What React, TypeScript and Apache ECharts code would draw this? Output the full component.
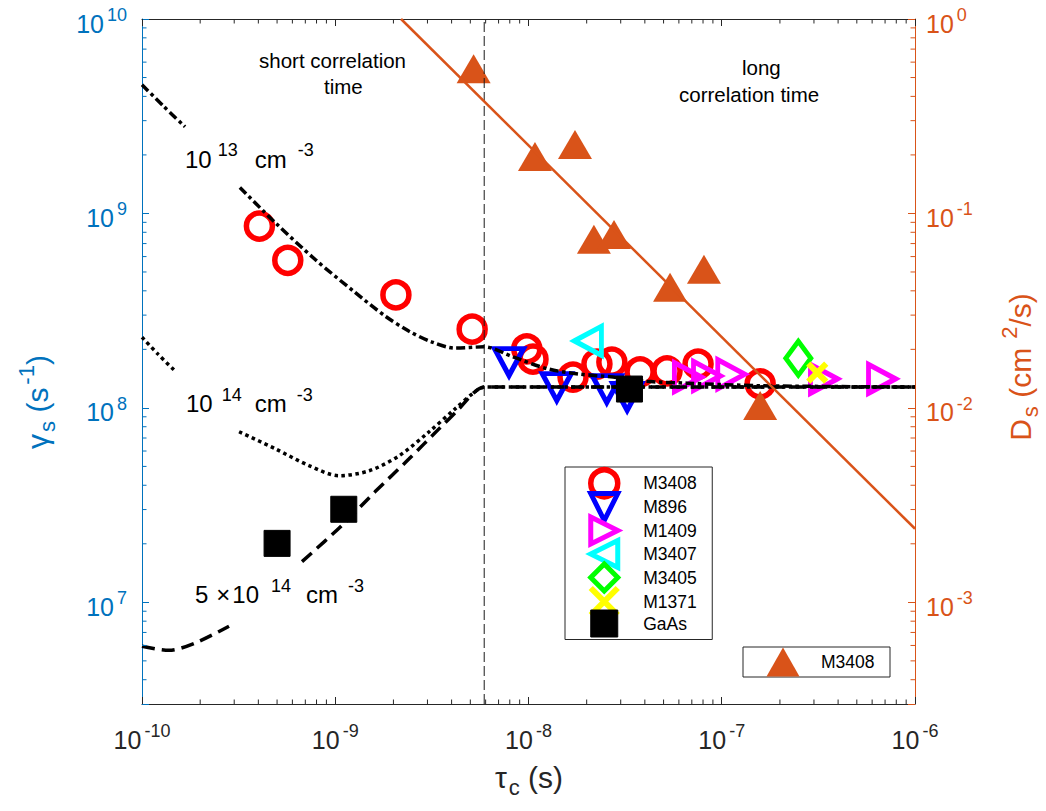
import React, { useEffect, useRef } from "react";
import * as echarts from "echarts";

const FONT = '"Liberation Sans", Arial, Helvetica, sans-serif';
const AXIS_COLOR = "#262626";
const LEFT_COLOR = "#0072BD";
const RIGHT_COLOR = "#D95319";

// ---------------- axis ranges ----------------
const TAU_MIN = 1e-10;
const TAU_MAX = 1e-6;
const GAMMA_MIN = 3e6;
const GAMMA_MAX = 1e10;
const DS_MIN = 3e-4;
const DS_MAX = 1;

// minor tick structure (log decades x 2..9)
const MINOR_MULT = [2, 3, 4, 5, 6, 7, 8, 9];
const TAU_DECADES = [1e-10, 1e-9, 1e-8, 1e-7];
const GAMMA_DECADES = [1e6, 1e7, 1e8, 1e9];
const DS_DECADES = [1e-4, 1e-3, 1e-2, 1e-1];

// ---------------- measured data (left axis: gamma_s) ----------------
const tauM3408 = [4.05e-10, 5.68e-10, 2.06e-9, 5.11e-9, 9.8e-9, 1.055e-8, 1.7e-8, 2.26e-8, 2.7e-8, 3.78e-8, 5.21e-8, 7.54e-8, 1.58e-7];
const gammaM3408 = [8.61e8, 5.74e8, 3.81e8, 2.54e8, 2.01e8, 1.78e8, 1.44e8, 1.68e8, 1.72e8, 1.53e8, 1.55e8, 1.68e8, 1.33e8];

const tauM896 = [7.93e-9, 1.4e-8, 2.54e-8, 3.24e-8];
const gammaM896 = [1.72e8, 1.28e8, 1.25e8, 1.14e8];

const tauM1409 = [6.68e-8, 8.39e-8, 1.12e-7, 3.38e-7, 6.75e-7];
const gammaM1409 = [1.44e8, 1.46e8, 1.49e8, 1.41e8, 1.41e8];

const tauM3407 = [2.03e-8];
const gammaM3407 = [2.21e8];

const tauM3405 = [2.49e-7];
const gammaM3405 = [1.8e8];

const tauM1371 = [3.12e-7];
const gammaM1371 = [1.52e8];

const tauGaAs = [5.0e-10, 1.107e-9, 3.33e-8];
const gammaGaAs = [2.01e7, 3.01e7, 1.25e8];

// ---------------- right axis: D_s ----------------
const tauDs = [5.2e-9, 1.08e-8, 1.74e-8, 2.18e-8, 2.77e-8, 5.4e-8, 8.09e-8, 1.58e-7];
const valDs = [0.554, 0.196, 0.226, 0.0736, 0.078, 0.0417, 0.0516, 0.0103];

const tauDsFit = [2.19e-9, 1e-6];
const valDsFit = [1, 2.39e-3];

// ---------------- model curves (null = gap for label) ----------------
const tauC13 = [1e-10, 1.285e-10, 1.67e-10, 2.3e-10, 3.21e-10, 4.88e-10, 7.85e-10, 1.26e-9, 1.81e-9, 2.41e-9, 3.17e-9, 4.17e-9, 5.89e-9, 8.32e-9, 1.25e-8, 1.85e-8, 2.74e-8, 4.1e-8, 6.61e-8, 1.58e-7, 1e-6];
const gammaC13 = [4.59e9, 3.58e9, 2.79e9, null, 1.36e9, 8.99e8, 5.81e8, 3.94e8, 2.97e8, 2.48e8, 2.18e8, 2.03e8, 2.06e8, 1.83e8, 1.59e8, 1.49e8, 1.44e8, 1.37e8, 1.34e8, 1.3e8, 1.28e8];

const tauC14 = [1e-10, 1.21e-10, 1.48e-10, 2.2e-10, 3.18e-10, 4.88e-10, 7.31e-10, 1.045e-9, 1.5e-9, 2.14e-9, 3.06e-9, 4.17e-9, 5.28e-9, 5.96e-9, 1e-8, 1e-6];
const gammaC14 = [2.31e8, 1.89e8, 1.55e8, null, 7.54e7, 6.17e7, 5.05e7, 4.48e7, 4.75e7, 5.67e7, 7.54e7, 9.89e7, 1.21e8, 1.28e8, 1.28e8, 1.28e8];

const tauC5e14 = [1e-10, 1.38e-10, 1.88e-10, 2.82e-10, 4.5e-10, 6.73e-10, 1.08e-9, 1.61e-9, 2.41e-9, 3.44e-9, 4.37e-9, 5.28e-9, 5.96e-9, 1e-8, 1e-6];
const gammaC5e14 = [5.94e6, 5.67e6, 6.17e6, 7.54e6, null, 1.62e7, 2.48e7, 3.71e7, 5.47e7, 7.8e7, 9.89e7, 1.21e8, 1.28e8, 1.28e8, 1.28e8];

// boundary between short / long correlation time
const tauBoundary = [5.9e-9, 5.9e-9];
const gammaBoundary = [GAMMA_MIN, GAMMA_MAX];

const LEGEND_MAIN = ["M3408", "M896", "M1409", "M3407", "M3405", "M1371", "GaAs"];
const LEGEND_DS = ["M3408 "];

// marker outlines used in the legend (rotated triangles)
const ICON_DOWN = "path://M0,0L20,0L10,17.3Z";
const ICON_RIGHT = "path://M0,0L17.3,10L0,20Z";
const ICON_LEFT = "path://M17.3,0L0,10L17.3,20Z";

const pairs = (xs: number[], ys: (number | null)[]) => xs.map((x, i) => [x, ys[i] === null ? "-" : ys[i]]);

const minorTicks = (decades: number[], lo: number, hi: number) => {
  const out: number[] = [];
  decades.forEach((d) => MINOR_MULT.forEach((m) => {
    const v = d * m;
    if (v > lo * 1.001 && v < hi * 0.999) out.push(v);
  }));
  return out;
};

const powLabel = (v: number) => {
  const l = Math.log10(v);
  const e = Math.round(l);
  if (Math.abs(l - e) > 1e-6) return "";
  return `{b|10}{s|${e}}`;
};

const richAxis = (color: string) => ({
  b: { fontFamily: FONT, fontSize: 25, lineHeight: 34, verticalAlign: "bottom", color },
  s: { fontFamily: FONT, fontSize: 18, verticalAlign: "top", padding: [4, 0, 0, 3], color },
});

const curveRich = (() => {
  const r: any = {
    b: { fontFamily: FONT, fontSize: 24, lineHeight: 34, verticalAlign: "bottom", fill: "#000" },
  };
  [2, 8, 13, 15, 17].forEach((p) => {
    r["b" + p] = { fontFamily: FONT, fontSize: 24, lineHeight: 34, verticalAlign: "bottom", fill: "#000", padding: [0, 0, 0, p] };
  });
  [6, 9, 10, 11, 12].forEach((p) => {
    r["s" + p] = { fontFamily: FONT, fontSize: 18, verticalAlign: "top", fill: "#000", padding: [4, 0, 0, p] };
  });
  return r;
})();

const titleRich = (color: string) => ({
  g: { fontFamily: FONT, fontSize: 30, lineHeight: 52, verticalAlign: "middle", fill: color },
  sup: { fontFamily: FONT, fontSize: 22, verticalAlign: "top", padding: [4.5, 0, 0, 3], fill: color },
  sub: { fontFamily: FONT, fontSize: 22, verticalAlign: "bottom", padding: [0, 0, 4.5, 2], fill: color },
});

const textEl = (text: string, x: number, y: number, extra: any = {}) => ({
  type: "text",
  x,
  y,
  z: 50,
  silent: true,
  style: {
    text,
    fontFamily: FONT,
    fontSize: 20.5,
    fill: "#000",
    align: "left",
    textAlign: "left",
    verticalAlign: "middle",
    textVerticalAlign: "middle",
    ...extra,
  },
});

export default function App() {
  const ref = useRef<HTMLDivElement>(null);

  useEffect(() => {
    if (!ref.current) return;
    const chart = echarts.init(ref.current, null, { renderer: "svg" });

    const xAxisBase: any = {
      type: "log",
      logBase: 10,
      min: TAU_MIN,
      max: TAU_MAX,
      axisLine: { show: true, onZero: false, lineStyle: { color: AXIS_COLOR, width: 1 } },
      axisTick: { show: true, inside: true, length: 7, lineStyle: { color: AXIS_COLOR, width: 1 } },
      splitLine: { show: false },
      minorTick: { show: false },
      minorSplitLine: { show: false },
    };

    const scatter = (name: string, xs: number[], ys: number[], symbol: string, size: any, rotate: number, itemStyle: any, yAxisIndex = 0) => ({
      type: "scatter",
      name,
      xAxisIndex: 0,
      yAxisIndex,
      data: pairs(xs, ys),
      symbol,
      symbolSize: size,
      symbolRotate: rotate,
      itemStyle: { opacity: 1, ...itemStyle },
      z: 2,
      silent: true,
      emphasis: { disabled: true },
    });

    const curve = (xs: number[], ys: (number | null)[], type: any, width = 3.5, color = "#000", yAxisIndex = 0, smooth: any = 0.3) => ({
      type: "line",
      xAxisIndex: 0,
      yAxisIndex,
      data: pairs(xs, ys),
      showSymbol: false,
      symbol: "none",
      smooth,
      connectNulls: false,
      lineStyle: { color, width, type, opacity: 1 },
      z: 3,
      silent: true,
      emphasis: { disabled: true },
    });

    const tickSeries = (values: number[], kind: "x" | "left" | "right") => ({
      type: "custom",
      xAxisIndex: 0,
      yAxisIndex: kind === "right" ? 1 : 0,
      silent: true,
      z: 6,
      data: values.map((v) => (kind === "x" ? [v, 1e8] : [1e-8, v])),
      renderItem: (params: any, api: any) => {
        const cs = params.coordSys;
        const L = 4.5;
        if (kind === "x") {
          const px = api.coord([api.value(0), api.value(1)])[0];
          const bottom = cs.y + cs.height;
          return {
            type: "group",
            children: [
              { type: "line", shape: { x1: px, y1: bottom, x2: px, y2: bottom - L }, style: { stroke: AXIS_COLOR, lineWidth: 1 } },
              { type: "line", shape: { x1: px, y1: cs.y, x2: px, y2: cs.y + L }, style: { stroke: AXIS_COLOR, lineWidth: 1 } },
            ],
          };
        }
        const py = api.coord([api.value(0), api.value(1)])[1];
        if (kind === "left") {
          return { type: "line", shape: { x1: cs.x, y1: py, x2: cs.x + L, y2: py }, style: { stroke: LEFT_COLOR, lineWidth: 1 } };
        }
        const right = cs.x + cs.width;
        return { type: "line", shape: { x1: right, y1: py, x2: right - L, y2: py }, style: { stroke: RIGHT_COLOR, lineWidth: 1 } };
      },
    });

    const hollow = (color: string, w = 5) => ({ color: "rgba(255,255,255,0)", borderColor: color, borderWidth: w });

    const option: any = {
      animation: false,
      backgroundColor: "#ffffff",
      grid: { left: 142, right: 131, top: 19, bottom: 107, containLabel: false, outerBoundsMode: "none" },
      xAxis: [
        {
          ...xAxisBase,
          position: "bottom",
          axisLabel: {
            show: true,
            margin: 14,
            color: AXIS_COLOR,
            fontFamily: FONT,
            formatter: powLabel,
            rich: richAxis(AXIS_COLOR),
            showMinLabel: true,
            showMaxLabel: true,
          },
        },
        { ...xAxisBase, position: "top", axisLabel: { show: false } },
      ],
      yAxis: [
        {
          type: "log",
          logBase: 10,
          min: GAMMA_MIN,
          max: GAMMA_MAX,
          position: "left",
          axisLine: { show: true, onZero: false, lineStyle: { color: LEFT_COLOR, width: 1 } },
          axisTick: { show: true, inside: true, length: 7, lineStyle: { color: LEFT_COLOR, width: 1 } },
          axisLabel: { margin: 15, color: LEFT_COLOR, fontFamily: FONT, formatter: powLabel, rich: richAxis(LEFT_COLOR), showMaxLabel: true },
          splitLine: { show: false },
          minorTick: { show: false },
        },
        {
          type: "log",
          logBase: 10,
          min: DS_MIN,
          max: DS_MAX,
          position: "right",
          axisLine: { show: true, onZero: false, lineStyle: { color: RIGHT_COLOR, width: 1 } },
          axisTick: { show: true, inside: true, length: 7, lineStyle: { color: RIGHT_COLOR, width: 1 } },
          axisLabel: { margin: 11, color: RIGHT_COLOR, fontFamily: FONT, formatter: powLabel, rich: richAxis(RIGHT_COLOR), showMaxLabel: true },
          splitLine: { show: false },
          minorTick: { show: false },
        },
      ],
      legend: [
        {
          data: [
            { name: LEGEND_MAIN[0] },
            { name: LEGEND_MAIN[1], icon: ICON_DOWN },
            { name: LEGEND_MAIN[2], icon: ICON_RIGHT },
            { name: LEGEND_MAIN[3], icon: ICON_LEFT },
            { name: LEGEND_MAIN[4] },
            { name: LEGEND_MAIN[5] },
            { name: LEGEND_MAIN[6] },
          ],
          orient: "vertical",
          left: 565,
          top: 467,
          itemWidth: 27,
          itemHeight: 27,
          itemGap: -8.5,
          symbolKeepAspect: false,
          padding: [0, 15.5, 2, 22.75],
          borderColor: AXIS_COLOR,
          borderWidth: 1,
          backgroundColor: "#ffffff",
          selectedMode: false,
          itemStyle: { borderWidth: "inherit", opacity: 1 },
          textStyle: { fontFamily: FONT, fontSize: 17.5, color: "#000", padding: [0, 0, 0, 20.5] },
          z: 20,
        },
        {
          data: LEGEND_DS,
          orient: "horizontal",
          left: 743,
          top: 647,
          itemWidth: 33,
          itemHeight: 29,
          symbolKeepAspect: false,
          padding: [0.5, 15.5, 0.5, 23.5],
          borderColor: AXIS_COLOR,
          borderWidth: 1,
          backgroundColor: "#ffffff",
          selectedMode: false,
          itemStyle: { borderWidth: 0, opacity: 1 },
          formatter: (n: string) => n.trim(),
          textStyle: { fontFamily: FONT, fontSize: 17.5, color: "#000", padding: [0, 0, 0, 16.5] },
          z: 20,
        },
      ],
      series: [
        scatter("M3408", tauM3408, gammaM3408, "circle", 26, 0, hollow("#FF0000", 5.5)),
        scatter("M896", tauM896, gammaM896, "triangle", [29, 27], 180, hollow("#0000FF")),
        scatter("M1409", tauM1409, gammaM1409, "triangle", [29, 27], -90, hollow("#FF00FF")),
        scatter("M3407", tauM3407, gammaM3407, "triangle", [29, 27], 90, hollow("#00FFFF")),
        scatter("M3405", tauM3405, gammaM3405, "diamond", [25, 34], 0, hollow("#00FF00")),
        scatter("M1371", tauM1371, gammaM1371, "path://M0,0L20,20M20,0L0,20", 18, 0, hollow("#FFFF00", 6)),
        scatter("GaAs", tauGaAs, gammaGaAs, "rect", 26, 0, { color: "#000000", borderColor: "#000000", borderWidth: 1 }),
        scatter("M3408 ", tauDs, valDs, "triangle", [34, 29], 0, { color: RIGHT_COLOR, borderWidth: 0 }, 1),
        curve(tauC13, gammaC13, [9, 3.5, 3.5, 3.5]),
        curve(tauC14, gammaC14, [3.5, 3.5]),
        curve(tauC5e14, gammaC5e14, [13, 7]),
        curve(tauBoundary, gammaBoundary, [10, 4], 1, "#1a1a1a", 0, false),
        curve(tauDsFit, valDsFit, "solid", 2.5, RIGHT_COLOR, 1, false),
        tickSeries(minorTicks(TAU_DECADES, TAU_MIN, TAU_MAX), "x"),
        tickSeries(minorTicks(GAMMA_DECADES, GAMMA_MIN, GAMMA_MAX), "left"),
        tickSeries(minorTicks(DS_DECADES, DS_MIN, DS_MAX), "right"),
      ],
      graphic: [
        textEl("short correlation", 259, 60),
        textEl("time", 324, 86),
        textEl("long", 742, 67),
        textEl("correlation time", 679, 94),
        textEl("{b|10}{s6|13}{b17|cm}{s11|-3}", 185, 137, { rich: curveRich, verticalAlign: "top", textVerticalAlign: "top" }),
        textEl("{b|10}{s9|14}{b13|cm}{s10|-3}", 186, 381.5, { rich: curveRich, verticalAlign: "top", textVerticalAlign: "top" }),
        textEl("{b|5}{b8|×}{b2|10}{s12|14}{b15|cm}{s10|-3}", 195, 572.5, { rich: curveRich, verticalAlign: "top", textVerticalAlign: "top" }),
        textEl("{g|τ}{sub|c}{g| (s)}", 529, 777, { rich: titleRich(AXIS_COLOR), align: "center", textAlign: "center" }),
        {
          ...textEl("{g|γ}{sub|s}{g| (s}{sup|-1}{g|)}", 37, 402, { rich: titleRich(LEFT_COLOR), align: "center", textAlign: "center" }),
          rotation: Math.PI / 2,
        },
        {
          ...textEl("{g|D}{sub|s}{g| (cm}{sup| 2}{g|/s)}", 1020, 367, { rich: titleRich(RIGHT_COLOR), align: "center", textAlign: "center" }),
          rotation: Math.PI / 2,
        },
      ],
    };

    chart.setOption(option);
    return () => chart.dispose();
  }, []);

  return (
    <div
      ref={ref}
      style={{ position: "absolute", left: 0, top: 0, width: 1046, height: 811, background: "#ffffff" }}
    />
  );
}
